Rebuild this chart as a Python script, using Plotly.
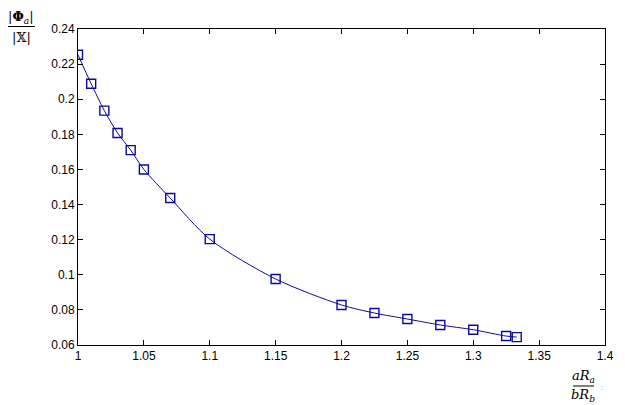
import plotly.graph_objects as go

# data
ratio = [1.0, 1.01, 1.02, 1.03, 1.04, 1.05, 1.07, 1.1, 1.15, 1.2, 1.225, 1.25, 1.275, 1.3, 1.325, 1.333]
phi_over_x = [0.2253, 0.2088, 0.1935, 0.1808, 0.1710, 0.1600, 0.1437, 0.1203, 0.0976, 0.0828, 0.0782, 0.0748, 0.0714, 0.0687, 0.0651, 0.0645]
x_ticks = [1.0, 1.05, 1.1, 1.15, 1.2, 1.25, 1.3, 1.35, 1.4]
x_tick_text = ["1", "1.05", "1.1", "1.15", "1.2", "1.25", "1.3", "1.35", "1.4"]
y_ticks = [0.06, 0.08, 0.1, 0.12, 0.14, 0.16, 0.18, 0.2, 0.22, 0.24]
y_tick_text = ["0.06", "0.08", "0.1", "0.12", "0.14", "0.16", "0.18", "0.2", "0.22", "0.24"]

# the page body has an 8px default margin; compensate for it
OFF = 8
W, H = 625 - OFF, 405 - OFF
L, R, T, B = 78, 605, 29, 345  # plot area in window pixels
BLUE = "#0a0aa0"


def px(xp):
    return (xp - L) / (R - L)


def py(yp):
    return (B - yp) / (B - T)


fig = go.Figure()
fig.add_trace(go.Scatter(
    x=ratio, y=phi_over_x, mode="lines+markers",
    line=dict(color=BLUE, width=1, shape="spline", smoothing=0.8),
    marker=dict(symbol="square-open", size=9, color=BLUE, line=dict(width=1.4, color=BLUE)),
    showlegend=False,
))

axis_common = dict(
    showline=True, linecolor="black", linewidth=1, mirror="ticks",
    ticks="inside", ticklen=5, tickcolor="black", tickwidth=1,
    showgrid=False, zeroline=False, automargin=False,
    tickfont=dict(family="Liberation Sans, Arial", size=12, color="black"),
)
fig.update_xaxes(range=[1.0, 1.4], tickvals=x_ticks, ticktext=x_tick_text, **axis_common)
fig.update_yaxes(range=[0.06, 0.24], tickvals=y_ticks, ticktext=y_tick_text, **axis_common)

label_font = dict(family="DejaVu Serif, Liberation Serif, serif", size=13, color="black")
annos = [
    dict(x=px(21), y=py(17), text="|<b>Φ</b><sub><i>a</i></sub>|"),
    dict(x=px(21), y=py(37), text="|𝕏|"),
    dict(x=px(583), y=py(376), text="<i>aR</i><sub><i>a</i></sub>"),
    dict(x=px(583), y=py(395), text="<i>bR</i><sub><i>b</i></sub>"),
    dict(x=px(602), y=py(387), text=":", font=dict(family="Liberation Sans", size=8, color="#888888")),
]
for a in annos:
    fig.add_annotation(xref="paper", yref="paper", showarrow=False,
                       xanchor="center", yanchor="middle",
                       font=a.pop("font", label_font), **a)

fig.add_shape(type="line", xref="paper", yref="paper",
              x0=px(8), x1=px(35), y0=py(26.5), y1=py(26.5),
              line=dict(color="black", width=1))
fig.add_shape(type="line", xref="paper", yref="paper",
              x0=px(573), x1=px(594), y0=py(386), y1=py(386),
              line=dict(color="black", width=1))

fig.update_layout(
    width=W, height=H,
    margin=dict(l=L - OFF, r=W - (R - OFF), t=T - OFF, b=H - (B - OFF)),
    paper_bgcolor="white", plot_bgcolor="white",
)

fig.write_html("out.html")
